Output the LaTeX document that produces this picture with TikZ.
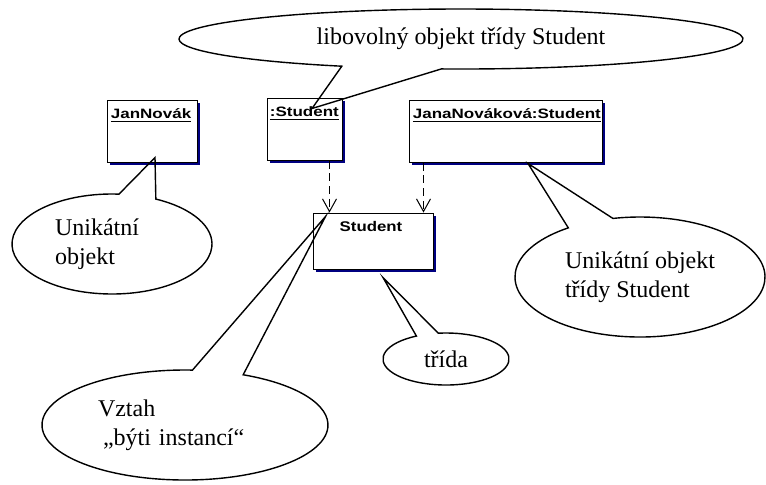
\documentclass[tikz,border=0pt]{standalone}
\usepackage{fontspec}
\setmainfont{Liberation Serif}
\setsansfont{Liberation Sans}
\usepackage{graphicx}
\usepackage{tikz}
\usetikzlibrary{arrows.meta,shadows}

\definecolor{umlnavy}{RGB}{0,0,128}
\newcommand{\objlabel}[1]{\scalebox{1.25}[1]{\sffamily\bfseries\fontsize{6.8}{8}\selectfont\underline{#1}}}
\newcommand{\classlabel}[1]{\scalebox{1.2}[1]{\sffamily\bfseries\fontsize{7}{8}\selectfont #1}}

\begin{document}
\begin{tikzpicture}[x=0.5pt,y=0.5pt,
    obj/.style={draw,line width=0.5pt,fill=white,minimum width=#1,minimum height=31pt,inner sep=0pt,
        drop shadow={shadow xshift=1.5pt,shadow yshift=-1.5pt,fill=umlnavy,opacity=1}},
    lbl/.style={anchor=base west,inner sep=0pt},
    txt/.style={inner sep=0pt,align=left,font=\fontsize{12}{14.5}\selectfont},
    bubble/.style={draw,line width=0.7pt,line join=miter},
    dep/.style={draw,line width=0.5pt,dash pattern=on 4pt off 2.4pt,-{Straight Barb[length=6.3pt,width=7pt]}}]
    \useasboundingbox (0,0) rectangle (766,-484);

    % objects and the class
    \node[obj=45pt] (jan) at (152,-131) {};
    \node[obj=37.5pt] (anyst) at (304.5,-129) {};
    \node[obj=96.5pt] (jana) at (505.5,-131) {};
    \node[obj=60pt,minimum height=28pt] (cls) at (373,-241) {};

    \node[lbl] (janT) at ([xshift=2pt,yshift=-9.25pt]jan.north west) {\objlabel{JanNovák}};
    \node[lbl] (anystT) at ([xshift=1.5pt,yshift=-9.25pt]anyst.north west) {\objlabel{:Student}};
    \node[lbl] (janaT) at ([xshift=2pt,yshift=-9.25pt]jana.north west) {\objlabel{JanaNováková:Student}};
    \node[anchor=base,inner sep=0pt] (clsT) at ([xshift=-1pt,yshift=-9.25pt]cls.north) {\classlabel{Student}};

    % instance-of
    \coordinate (d1) at ([xshift=-6.5pt]anyst.south east);
    \coordinate (d2) at ([xshift=7.5pt]jana.south west);
    \draw[dep] (d1) -- (d1 |- cls.north);
    \draw[dep] (d2) -- (d2 |- cls.north);

    % callouts
    \node[txt,text width=57pt] (unik) at (112,-244) {Unikátní\\objekt};
    \node[txt,text width=87pt] (vztah) at (185,-425) {Vztah\\\hspace{2.5pt}„býti instancí“};
    \node[txt] (trida) at (446,-359) {třída};
    \node[txt] (unikst) at (640,-277) {Unikátní objekt\\třídy Student};
    \node[txt] (libov) at (461,-39) {libovolný objekt třídy Student};

    \coordinate (tipA) at ([xshift=1.5pt,yshift=2.5pt]jan.south);
    \coordinate (tipB) at ([xshift=6.5pt,yshift=-2pt]cls.north west);
    \coordinate (tipC) at ([xshift=5pt,yshift=-4pt]cls.south);
    \coordinate (tipD) at ([xshift=11.25pt,yshift=-0.5pt]jana.south);
    \coordinate (tipE) at ([xshift=3.75pt,yshift=-5.5pt]anyst.north);

    \draw[bubble] ([shift={(86:50pt and 25pt)}]unik.center) arc[start angle=86,end angle=424,x radius=50pt,y radius=25pt] -- (tipA) -- cycle;
    \draw[bubble] ([shift={(87:71.5pt and 27.5pt)}]vztah.center) arc[start angle=87,end angle=426,x radius=71.5pt,y radius=27.5pt] -- (tipB) -- cycle;
    \draw[bubble] ([shift={(118:31.5pt and 13pt)}]trida.center) arc[start angle=118,end angle=457,x radius=31.5pt,y radius=13pt] -- (tipC) -- cycle;
    \draw[bubble] ([shift={(125:62.5pt and 30pt)}]unikst.center) arc[start angle=125,end angle=462.5,x radius=62.5pt,y radius=30pt] -- (tipD) -- cycle;
    \draw[bubble] ([shift={(266:141pt and 15pt)}]libov.center) arc[start angle=266,end angle=605,x radius=141pt,y radius=15pt] -- (tipE) -- cycle;
\end{tikzpicture}
\end{document}
